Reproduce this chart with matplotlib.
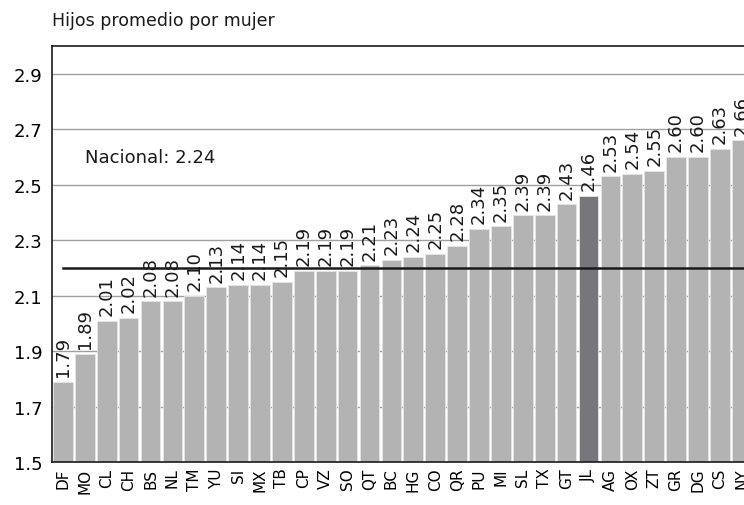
import matplotlib
matplotlib.use('Agg')
import matplotlib.pyplot as plt

# Entidades ordenadas de menor a mayor
estados = ['DF', 'MO', 'CL', 'CH', 'BS', 'NL', 'TM', 'YU', 'SI', 'MX', 'TB',
           'CP', 'VZ', 'SO', 'QT', 'BC', 'HG', 'CO', 'QR', 'PU', 'MI', 'SL',
           'TX', 'GT', 'JL', 'AG', 'OX', 'ZT', 'GR', 'DG', 'CS', 'NY']
hijos = [1.79, 1.89, 2.01, 2.02, 2.08, 2.08, 2.10, 2.13, 2.14, 2.14, 2.15,
         2.19, 2.19, 2.19, 2.21, 2.23, 2.24, 2.25, 2.28, 2.34, 2.35, 2.39,
         2.39, 2.43, 2.46, 2.53, 2.54, 2.55, 2.60, 2.60, 2.63, 2.66]
nacional = 2.2
nacional_txt = 'Nacional: 2.24'
destacado = 'JL'

fig = plt.figure(figsize=(7.44, 5.06), dpi=100)
ax = fig.add_axes([52 / 744, 43 / 506, 1 - 52 / 744, 416 / 506])

x = range(len(estados))
colores = ['#77777b' if e == destacado else '#b3b3b3' for e in estados]
ax.bar(x, [h - 1.5 for h in hijos], bottom=1.5, width=0.9, color=colores,
       edgecolor='#e6e6e6', linewidth=0.6, zorder=2)

# etiquetas de valor, verticales
for i, h in enumerate(hijos):
    ax.annotate(f'{h:.2f}', (i, h), xytext=(0, 4), textcoords='offset points',
                rotation=90, ha='center', va='bottom', fontsize=13,
                color='#1a1a1a', zorder=3)

ax.plot([0, len(estados)], [nacional, nacional], color='#1a1a1a',
        linewidth=1.8, zorder=4)
ax.text(1.0, 2.6, nacional_txt, fontsize=13, ha='left', va='center',
        color='#1a1a1a')

ax.set_xlim(-0.5, 31.1)
ax.set_ylim(1.5, 3.0)
ax.set_yticks([1.5, 1.7, 1.9, 2.1, 2.3, 2.5, 2.7, 2.9])
ax.set_yticklabels(['1.5', '1.7', '1.9', '2.1', '2.3', '2.5', '2.7', '2.9'])
ax.set_xticks(list(x))
ax.set_xticklabels(estados, rotation=90, fontsize=11)
ax.tick_params(axis='y', length=0, labelsize=13, pad=7)
ax.tick_params(axis='x', length=0, pad=4)
ax.yaxis.grid(True, color='#a0a0a0', linewidth=1.0, zorder=0)
ax.set_axisbelow(True)

ax.spines['right'].set_visible(False)
for s in ['left', 'top', 'bottom']:
    ax.spines[s].set_color('#1a1a1a')
    ax.spines[s].set_linewidth(1.2)

fig.text(52 / 744, 1 - 21 / 506, 'Hijos promedio por mujer', fontsize=12.5,
         ha='left', va='center', color='#1a1a1a')

fig.savefig('out.png', dpi=100)
